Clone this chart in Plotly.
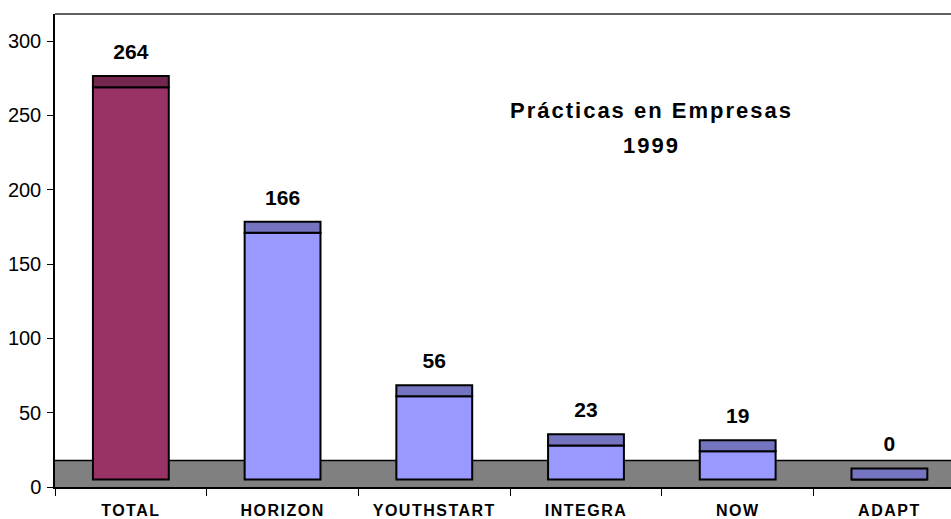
import plotly.graph_objects as go

# ---- data ----
categories = ["TOTAL", "HORIZON", "YOUTHSTART", "INTEGRA", "NOW", "ADAPT"]
values = [264, 166, 56, 23, 19, 0]
title_line1 = "Prácticas en Empresas"
title_line2 = "1999"
y_ticks = [0, 50, 100, 150, 200, 250, 300]

# ---- style constants (pseudo-3D look) ----
BASE = 5.0          # front face starts slightly above the axis (3D floor)
DEPTH = 7.5         # apparent height of the bar top face
FLOOR_TOP = 17.8    # floor band height
LABEL_GAP = 15.0    # distance from top face to value label centre
FONT = "Arial, Liberation Sans, sans-serif"

front_colors = ["#993366"] + ["#9999FF"] * (len(categories) - 1)
top_colors = ["#74264F"] + ["#7474C0"] * (len(categories) - 1)

fig = go.Figure()

# front faces
fig.add_trace(go.Bar(
    x=categories, y=values, base=[BASE] * len(values),
    width=0.5, marker=dict(color=front_colors, line=dict(color="black", width=2)),
    hoverinfo="skip", showlegend=False,
))
# top faces
fig.add_trace(go.Bar(
    x=categories, y=[DEPTH] * len(values), base=[v + BASE for v in values],
    width=0.5, marker=dict(color=top_colors, line=dict(color="black", width=2)),
    hoverinfo="skip", showlegend=False,
))
# value labels
fig.add_trace(go.Scatter(
    x=categories, y=[v + BASE + DEPTH + LABEL_GAP for v in values],
    mode="text", text=[str(v) for v in values],
    textfont=dict(family=FONT, size=21, color="black", weight="bold"),
    hoverinfo="skip", showlegend=False,
))

fig.update_layout(
    width=951, height=519,
    margin=dict(l=55, r=0, t=14, b=29),
    paper_bgcolor="white", plot_bgcolor="white",
    barmode="overlay",
    font=dict(family=FONT, color="black"),
    xaxis=dict(
        range=[-0.5, 5.406], showgrid=False, zeroline=False,
        showline=True, linecolor="black", linewidth=1.5,
        ticks="outside", tickson="boundaries", ticklen=7, tickcolor="black", tickwidth=1,
        tickfont=dict(family=FONT, size=16, color="black", weight="bold"),
        ticklabelstandoff=8,
    ),
    yaxis=dict(
        range=[0, 318.2], tickvals=y_ticks, showgrid=False, zeroline=False,
        showline=True, linecolor="black", linewidth=1.5,
        ticks="outside", ticklen=6, tickcolor="black", tickwidth=1,
        tickfont=dict(family=FONT, size=20, color="black"),
        ticklabelstandoff=2,
    ),
    shapes=[
        dict(type="rect", xref="paper", yref="y", x0=0, x1=1, y0=0, y1=FLOOR_TOP,
             fillcolor="#808080", line=dict(width=0), layer="below"),
        dict(type="line", xref="paper", yref="y", x0=0, x1=1, y0=FLOOR_TOP, y1=FLOOR_TOP,
             line=dict(color="black", width=1.5), layer="below"),
        dict(type="line", xref="paper", yref="paper", x0=0, x1=1, y0=1, y1=1,
             line=dict(color="#606060", width=2)),
    ],
    annotations=[
        dict(text=title_line1, xref="paper", yref="paper", x=0.666, y=0.796,
             showarrow=False, xanchor="center", yanchor="middle",
             font=dict(family=FONT, size=22, color="black", weight="bold")),
        dict(text=title_line2, xref="paper", yref="paper", x=0.666, y=0.723,
             showarrow=False, xanchor="center", yanchor="middle",
             font=dict(family=FONT, size=22, color="black", weight="bold")),
    ],
)

post = """
document.body.style.margin = '0';
document.body.style.overflow = 'hidden';
var gd = document.getElementById('{plot_id}');
gd.querySelectorAll('.xtick text').forEach(function(t){ t.style.letterSpacing = '1.5px'; });
gd.querySelectorAll('.annotation-text').forEach(function(t){ t.style.letterSpacing = '2px'; });
"""

fig.write_html("out.html", post_script=post, config={"displayModeBar": False})
